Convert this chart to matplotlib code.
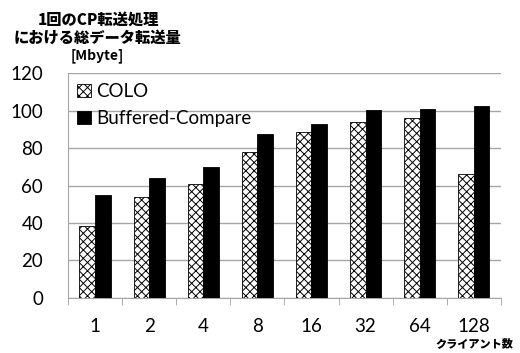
import matplotlib.pyplot as plt
import numpy as np

plt.rcParams['font.family'] = ['Lato', 'Noto Sans CJK JP', 'DejaVu Sans']
plt.rcParams['hatch.linewidth'] = 0.7

# Data
clients = ['1', '2', '4', '8', '16', '32', '64', '128']
colo = [38.3, 54.0, 61.0, 78.1, 88.8, 93.8, 95.9, 66.0]
buffered = [54.7, 64.0, 69.7, 87.4, 93.1, 100.2, 100.9, 102.4]

fig = plt.figure(figsize=(5.2, 3.53), dpi=100)
ax = fig.add_axes([0.131, 0.157, 0.832, 0.635])

x = np.arange(len(clients))
w = 0.29
ax.bar(x - w / 2, colo, w, color='white', edgecolor='black', hatch='xxxx',
       linewidth=0.6, label='COLO', zorder=3)
ax.bar(x + w / 2, buffered, w, color='black', edgecolor='black',
       linewidth=0.6, label='Buffered-Compare', zorder=3)

ax.set_xlim(-0.5, len(clients) - 0.5)
ax.set_ylim(0, 120)
ax.set_yticks(range(0, 121, 20))
ax.set_xticks(x)
ax.set_xticklabels(clients)
ax.set_xticks(np.arange(-0.5, len(clients)), minor=True)
ax.tick_params(axis='x', which='major', length=0, pad=15, labelsize=13.5)
ax.tick_params(axis='x', which='minor', length=5, color='#a0a0a0', direction='out')
ax.tick_params(axis='y', length=0, pad=18, labelsize=13.5)

ax.grid(axis='y', color='#a6a6a6', linewidth=1, zorder=0)
for s in ['top', 'right']:
    ax.spines[s].set_visible(False)
for s in ['left', 'bottom']:
    ax.spines[s].set_color('#a6a6a6')

ax.legend(loc='upper left', frameon=False, fontsize=13.5, handlelength=0.7,
          handleheight=0.7, handletextpad=0.3, labelspacing=0.55,
          borderaxespad=0.1, bbox_to_anchor=(0.0, 1.0))

# Axis titles
cjk = ['Noto Sans CJK JP', 'DejaVu Sans']
fig.text(0.19, 0.943, '1回のCP転送処理', ha='center', va='center',
         fontsize=11, fontweight='black', family=cjk)
fig.text(0.187, 0.892, 'における総データ転送量', ha='center', va='center',
         fontsize=11, fontweight='black', family=cjk)
fig.text(0.187, 0.841, '[Mbyte]', ha='center', va='center',
         fontsize=10, fontweight='bold', family=cjk)
fig.text(0.913, 0.028, 'クライアント数', ha='center', va='center',
         fontsize=8, fontweight='black', family=cjk)

plt.savefig('out.png', dpi=100)
